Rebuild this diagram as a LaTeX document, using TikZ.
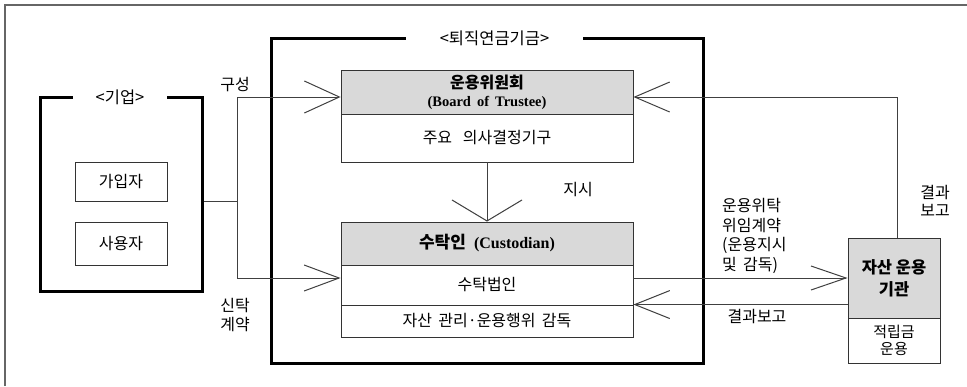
\documentclass[tikz,border=0pt]{standalone}
\usepackage{fontspec}
\setmainfont{Liberation Serif}
\newfontfamily\kr{Noto Sans CJK KR}
\usetikzlibrary{arrows.meta}
\definecolor{hdr}{gray}{0.85}
\tikzset{
  cell/.style={draw=black!80, line width=0.9pt, inner sep=0pt, align=center,
    font=\kr\fontsize{16}{19}\selectfont},
  frame/.style={draw=black, line width=3pt, inner sep=0pt},
  tag/.style={fill=white, inner sep=0pt, minimum height=14pt, font=\kr\fontsize{16.5}{19}\selectfont},
  lbl/.style={inner sep=0pt, align=center, font=\kr\fontsize{16}{19}\selectfont},
  conn/.style={draw=black!75, line width=1pt},
}
\begin{document}
\begin{tikzpicture}[x=1pt,y=-1pt]
\useasboundingbox (0,0) rectangle (967,386);
\draw[black!60, line width=1.5pt] (5,386) -- (5,5) -- (967,5);

% enterprise
\node[frame, minimum width=162pt, minimum height=194pt] (ent) at (121,194) {};
\node[tag, minimum width=94pt] (entl) at (120,97) {<기업>};
\node[cell, minimum width=92pt, minimum height=39pt] (mem) at (121,181.5) {가입자};
\node[cell, minimum width=92pt, minimum height=43pt] (emp) at (121,243.5) {사용자};

% fund
\node[frame, minimum width=432pt, minimum height=325pt] (fund) at (487,200.5) {};
\node[tag, minimum width=177pt] (fundl) at (494.5,38) {<퇴직연금기금>};

% board
\node[cell, fill=hdr, minimum width=292pt, minimum height=44pt] (bh) at (487,92)
  {\bfseries 운용위원회\\[-1pt]{\rmfamily\bfseries\fontsize{14.5}{15}\selectfont (Board\, of\, Trustee)}};
\node[cell, minimum width=292pt, minimum height=48pt] (bb) at (487,138) {주요\;\, 의사결정기구};

% custodian
\node[cell, fill=hdr, minimum width=292pt, minimum height=43pt] (ch) at (487,243.5)
  {{\bfseries\fontsize{17}{19}\selectfont 수탁인}\; {\rmfamily\bfseries\fontsize{16}{19}\selectfont (Custodian)}};
\node[cell, minimum width=292pt, minimum height=40pt] (cr) at (487,285) {수탁법인};
\node[cell, minimum width=292pt, minimum height=32pt] (cs) at (487,321) {자산\, 관리·운용행위\, 감독};

% asset manager
\node[cell, fill=hdr, minimum width=92pt, minimum height=80pt, font=\kr\bfseries\fontsize{16.5}{22}\selectfont] (ah) at (894,278) {자산 운용\\기관};
\node[cell, minimum width=92pt, minimum height=45pt, font=\kr\fontsize{15}{16.5}\selectfont] (ab) at (894,340.5) {적립금\\운용};

% connectors
\coordinate (j) at (237,201);
\coordinate (jt) at (237,97);
\coordinate (jb) at (237,278);
\coordinate (r1) at (897,97);
\draw[conn] (ent.east |- j) -- (j);
\draw[conn] (jt) -- (jb);
\draw[conn, -{Straight Barb[length=35pt,width=32pt]}] (jt) -- (jt -| bh.west);
\draw[conn, -{Straight Barb[length=35pt,width=26pt]}] (jb) -- (jb -| cr.west);
\draw[conn, -{Straight Barb[length=21pt,width=70pt]}] (bb.south) -- (ch.north);
\draw[conn, -{Straight Barb[length=35pt,width=30pt]}] (r1 |- ah.north) -- (r1) -- (r1 -| bh.east);
\draw[conn, -{Straight Barb[length=35pt,width=24pt]}] (cr.east |- ah.west) -- (ah.west);
\draw[conn, -{Straight Barb[length=35pt,width=28pt]}] (ah.west |- cs.north east) -- (cs.north east);

% labels
\node[lbl] (l1) at (235,85) {구성};
\node[lbl] (l2) at (235,315) {신탁\\계약};
\node[lbl] (l3) at (578,190) {지시};
\node[lbl, align=left, anchor=west, font=\kr\fontsize{16}{19.5}\selectfont] (l4) at (722,236) {운용위탁\\위임계약\\(운용지시\\및\, 감독)};
\node[lbl] (l5) at (757,317) {결과보고};
\node[lbl, font=\kr\fontsize{16}{18}\selectfont] (l6) at (935,201) {결과\\보고};
\end{tikzpicture}
\end{document}
